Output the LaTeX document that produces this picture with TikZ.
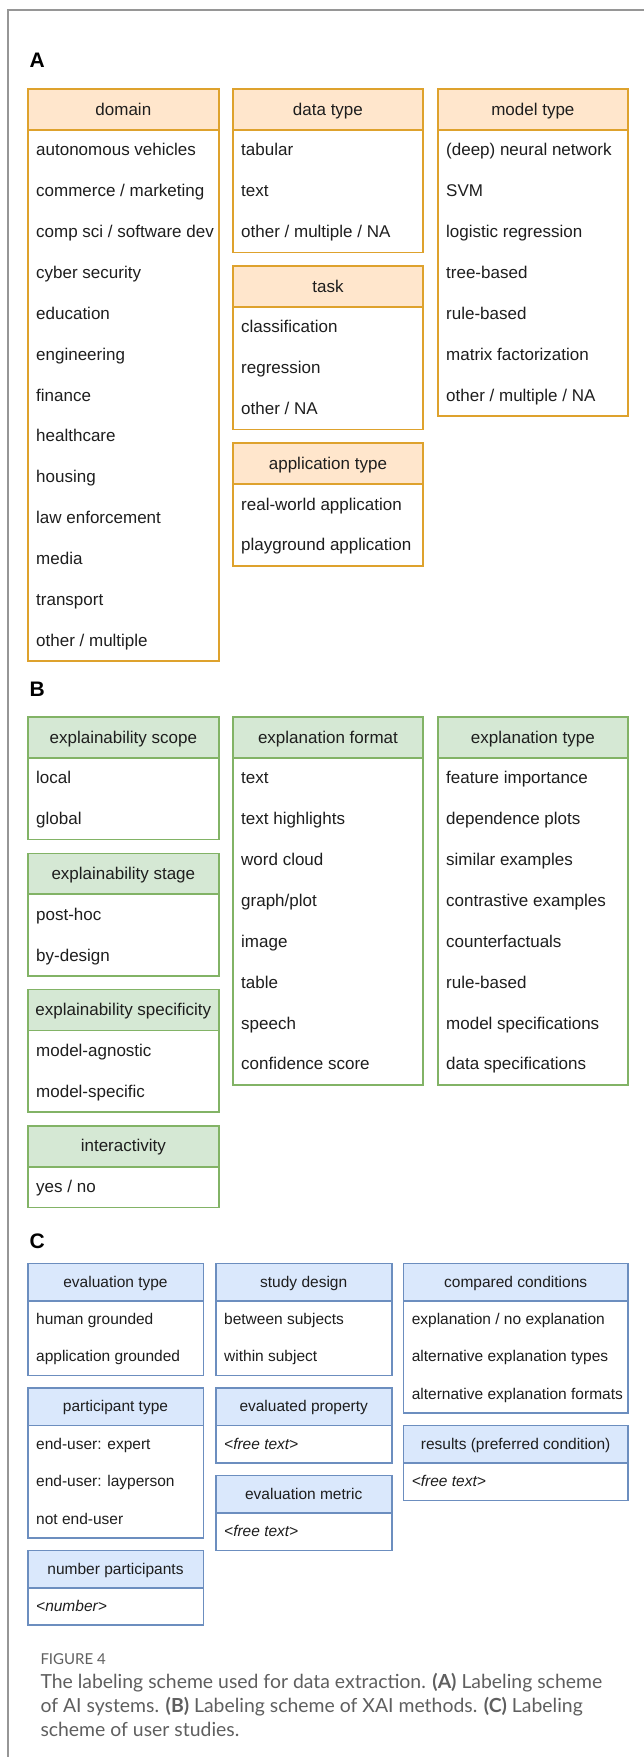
\documentclass[tikz,border=0pt]{standalone}
\usepackage{fontspec}
\setmainfont{Liberation Sans}
\newfontfamily\capfont{Lato}
\definecolor{frameink}{RGB}{150,150,150}
\definecolor{cellink}{RGB}{30,30,30}
\definecolor{capink}{RGB}{95,95,95}
\definecolor{orangefill}{RGB}{255,230,204}
\definecolor{orangeline}{RGB}{222,162,45}
\definecolor{greenfill}{RGB}{213,232,212}
\definecolor{greenline}{RGB}{130,179,102}
\definecolor{bluefill}{RGB}{218,232,252}
\definecolor{blueline}{RGB}{108,142,191}

% row height, text offset and font of the current panel
\newcommand{\rowh}{40.86}
\newcommand{\txth}{11.2pt}
\newcommand{\cellfont}{\fontsize{17}{20}\selectfont}

% name, colour, left, top, width, header, items
\newcommand{\schemebox}[7]{%
  \foreach \itm [count=\i] in {#7}{
    \node[cell] (#1-\i) at (#3+8.3,{#4+\rowh*(\i+0.5)}) {\itm};
    \xdef\nrows{\i}
  }
  \draw[draw=#2line,line width=1.6pt] (#3,#4) rectangle (#3+#5,{#4+\rowh*(\nrows+1)});
  \node[head=#2,minimum width=#5pt] (#1) at (#3,#4) {#6};
}

\begin{document}
\begin{tikzpicture}[x=1pt,y=-1pt,
 head/.style={draw=#1line,fill=#1fill,line width=1.6pt,anchor=north west,inner sep=0pt,outer sep=0pt,
   minimum height=\rowh pt,text height=\txth,text depth=0pt,font=\cellfont,text=cellink},
 cell/.style={anchor=west,inner sep=0pt,text height=\txth,text depth=0pt,font=\cellfont,text=cellink},
 panel/.style={anchor=west,inner sep=0pt,font=\bfseries\fontsize{21}{21}\selectfont},
 capline/.style={anchor=base west,inner sep=0pt,text=capink,font=\capfont\fontsize{19.4}{24}\selectfont}]
\useasboundingbox (0,0) rectangle (644,1757);
\fill[white] (0,0) rectangle (644,1757);
\draw[frameink,line width=1.5pt] (644,10) -- (8,10) -- (8,1757);

% A: AI systems
\node[panel] (pa) at (29.5,60) {A};
\schemebox{dom}{orange}{27.7}{89}{191.3}{domain}{autonomous vehicles,commerce / marketing,comp sci / software dev,cyber security,education,engineering,finance,healthcare,housing,law enforcement,media,transport,other / multiple}
\schemebox{dat}{orange}{232.7}{89}{190.5}{data type}{tabular,text,other / multiple / NA}
\schemebox{tsk}{orange}{232.7}{266.1}{190.5}{task}{classification,regression,other / NA}
\schemebox{app}{orange}{232.7}{443.2}{190.5}{application type}{real-world application,playground application}
\schemebox{mdl}{orange}{437.7}{89}{190.3}{model type}{{(deep) neural network},SVM,logistic regression,tree-based,rule-based,matrix factorization,other / multiple / NA}

% B: XAI methods
\node[panel] (pb) at (29.5,689.5) {B};
\schemebox{scp}{green}{27.7}{717}{191.3}{explainability scope}{local,global}
\schemebox{stg}{green}{27.7}{853.3}{191.3}{explainability stage}{post-hoc,by-design}
\schemebox{spc}{green}{27.7}{989.6}{191.3}{explainability specificity}{model-agnostic,model-specific}
\schemebox{itv}{green}{27.7}{1125.9}{191.3}{interactivity}{yes / no}
\schemebox{fmt}{green}{232.7}{717}{190.5}{explanation format}{text,text highlights,word cloud,graph/plot,image,table,speech,confidence score}
\schemebox{typ}{green}{437.7}{717}{190.3}{explanation type}{feature importance,dependence plots,similar examples,contrastive examples,counterfactuals,rule-based,model specifications,data specifications}

% C: user studies
\renewcommand{\rowh}{37.4}
\renewcommand{\txth}{10pt}
\renewcommand{\cellfont}{\fontsize{15.5}{18}\selectfont}
\node[panel] (pc) at (29.5,1241.7) {C};
\schemebox{evt}{blue}{27.7}{1263.3}{175.6}{evaluation type}{human grounded,application grounded}
\schemebox{prt}{blue}{27.7}{1388.1}{175.6}{participant type}{end-user: expert,end-user: layperson,not end-user}
\schemebox{npt}{blue}{27.7}{1550.3}{175.6}{number participants}{\textit{<number>}}
\schemebox{sdy}{blue}{215.7}{1263.3}{176}{study design}{between subjects,within subject}
\schemebox{epr}{blue}{215.7}{1388.1}{176}{evaluated property}{\textit{<free text>}}
\schemebox{emt}{blue}{215.7}{1475.5}{176}{evaluation metric}{\textit{<free text>}}
\schemebox{cmp}{blue}{403.3}{1263.3}{224.7}{compared conditions}{explanation / no explanation,alternative explanation types,alternative explanation formats}
\schemebox{res}{blue}{403.3}{1425.5}{224.7}{results (preferred condition)}{\textit{<free text>}}

% caption
\node[capline,font=\capfont\fontsize{15}{15}\selectfont] (fig) at (40.3,1664) {FIGURE 4};
\node[capline] (cap1) at (40.3,1688.3) {The labeling scheme used for data extraction. \textbf{(A)} Labeling scheme};
\node[capline] (cap2) at (40.3,1712.6) {of AI systems. \textbf{(B)} Labeling scheme of XAI methods. \textbf{(C)} Labeling};
\node[capline] (cap3) at (40.3,1736.9) {scheme of user studies.};
\end{tikzpicture}
\end{document}
